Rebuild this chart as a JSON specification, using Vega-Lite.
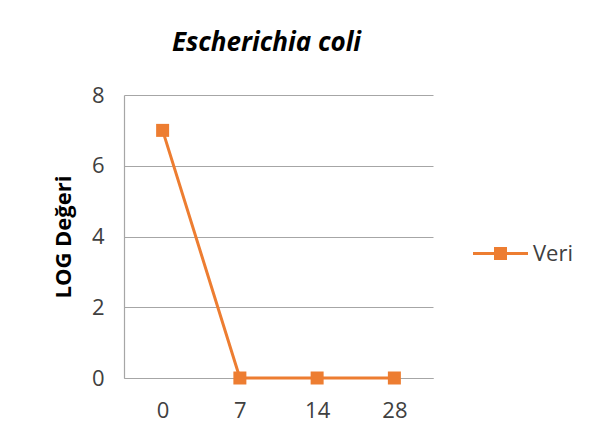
{
  "$schema": "https://vega.github.io/schema/vega-lite/v6.json",
  "autosize": "none",
  "width": 309,
  "height": 283,
  "padding": {"left": 124, "top": 95, "right": 167, "bottom": 65},
  "background": "white",
  "title": {
    "text": "Escherichia coli",
    "font": "Open Sans",
    "fontSize": 26,
    "fontWeight": "bold",
    "fontStyle": "italic",
    "color": "#000000",
    "anchor": "middle",
    "frame": "group",
    "dx": -12,
    "offset": 28
  },
  "data": {
    "values": [
      {"day": "0", "log": 7, "series": "Veri"},
      {"day": "7", "log": 0, "series": "Veri"},
      {"day": "14", "log": 0, "series": "Veri"},
      {"day": "28", "log": 0, "series": "Veri"}
    ]
  },
  "encoding": {
    "x": {
      "field": "day",
      "type": "ordinal",
      "sort": null,
      "scale": {"paddingInner": 0, "paddingOuter": 0},
      "axis": {
        "title": null,
        "labelAngle": 0,
        "labelFont": "Open Sans",
        "labelFontSize": 22,
        "labelColor": "#404040",
        "labelPadding": 22,
        "ticks": false,
        "domainColor": "#a6a6a6",
        "domainWidth": 1.2,
        "grid": false
      }
    },
    "y": {
      "field": "log",
      "type": "quantitative",
      "scale": {"domain": [0, 8], "nice": false},
      "axis": {
        "title": "LOG Değeri",
        "titleFont": "Open Sans",
        "titleFontSize": 22,
        "titleFontWeight": "bold",
        "titleColor": "#000000",
        "titlePadding": 16,
        "values": [0, 2, 4, 6, 8],
        "labelFont": "Open Sans",
        "labelFontSize": 22,
        "labelColor": "#404040",
        "labelPadding": 20,
        "ticks": false,
        "domainColor": "#a6a6a6",
        "domainWidth": 1.2,
        "gridColor": "#a6a6a6",
        "gridWidth": 1
      }
    },
    "color": {
      "field": "series",
      "type": "nominal",
      "scale": {"range": ["#ED7D31"]},
      "legend": {
        "title": null,
        "orient": "none",
        "legendX": 349,
        "legendY": 131,
        "symbolType": "M-1,-0.055H-0.236V-0.236H0.236V-0.055H1V0.055H0.236V0.236H-0.236V0.055H-1Z",
        "symbolSize": 3025,
        "symbolStrokeWidth": 0,
        "symbolFillColor": "#ED7D31",
        "symbolOpacity": 1,
        "labelFont": "Open Sans",
        "labelFontSize": 22,
        "labelColor": "#404040",
        "labelOffset": 5
      }
    }
  },
  "layer": [
    {"mark": {"type": "line", "strokeWidth": 3}},
    {"mark": {"type": "square", "size": 169, "filled": true, "opacity": 1}}
  ],
  "config": {"view": {"stroke": null}}
}
